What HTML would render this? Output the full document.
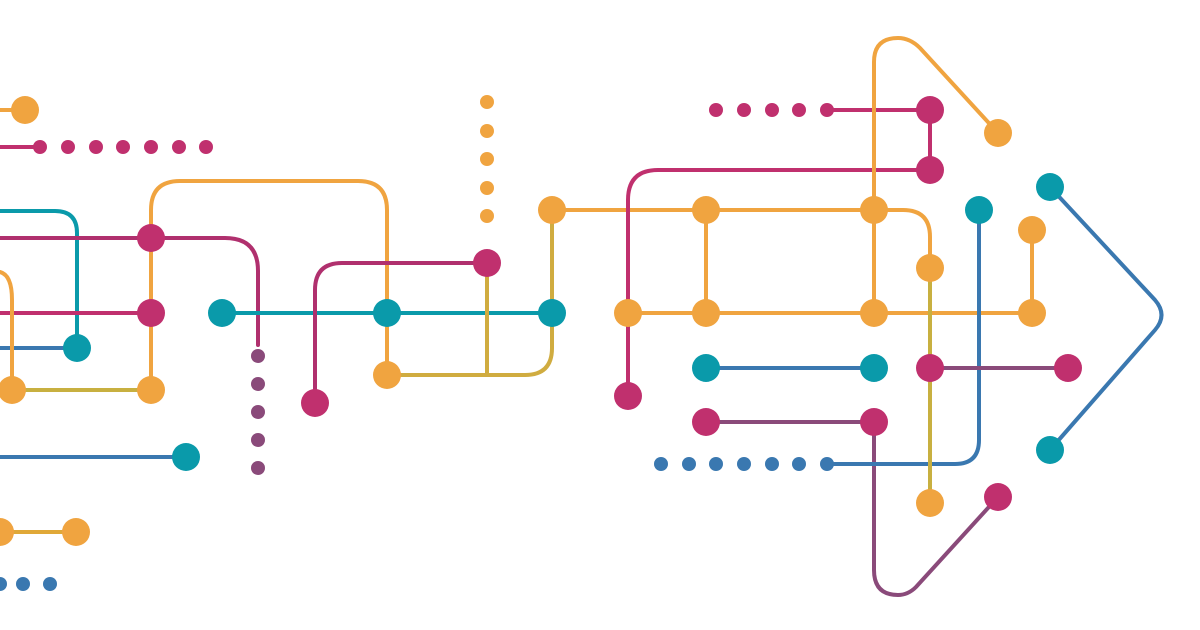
<!DOCTYPE html>
<html><head><meta charset="utf-8"><style>html,body{margin:0;padding:0;background:#fff}svg{display:block}</style></head>
<body>
<svg width="1200" height="630" viewBox="0 0 1200 630" xmlns="http://www.w3.org/2000/svg" fill="none" stroke-width="4" stroke-linecap="round">
<!-- left -->
<path d="M0 110H25" stroke="#F0A440"/>
<path d="M0 147H40" stroke="#C0306E"/>
<path d="M0 211H55Q77 211 77 233V348" stroke="#0A9AAA"/>
<path d="M0 348H77" stroke="#3A78B0"/>
<path d="M0 238H225Q258 238 258 271V345" stroke="#B0306E"/>
<path d="M151 390V210Q151 181 180 181H358Q387 181 387 210V375" stroke="#F0A440"/>
<path d="M0 313H151" stroke="#C0306E"/>
<path d="M0 272Q12 275 12 300V390" stroke="#F0A440"/>
<path d="M12 390H151" stroke="#C8B040"/>
<path d="M0 457H186" stroke="#3A78B0"/>
<path d="M0 532H76" stroke="#E0A838"/>
<!-- middle -->
<path d="M222 313H552" stroke="#0A9AAA"/>
<path d="M315 403V290Q315 263 342 263H487" stroke="#B0306E"/>
<path d="M487 263V375" stroke="#D0AC40"/>
<path d="M387 375H525Q552 375 552 348V210" stroke="#D0AC40"/>
<path d="M552 210H903Q930 210 930 237V268" stroke="#F0A440"/>
<path d="M706 210V313" stroke="#F0A440"/>
<path d="M628 313H1032" stroke="#F0A440"/>
<path d="M628 396V200Q628 170 658 170H930" stroke="#C0306E"/>
<path d="M827 110H930V170" stroke="#C0306E"/>
<path d="M874 313V62Q874 38 898 38Q910 38 920 48L998 133" stroke="#F0A440"/>
<path d="M706 368H874" stroke="#3A78B0"/>
<path d="M706 422H874V570Q874 595 898 595Q908 595 916 587L998 497" stroke="#8A4A7A"/>
<path d="M827 464H955Q979 464 979 440V210" stroke="#3A78B0"/>
<path d="M930 268V503" stroke="#C8B040"/>
<path d="M930 368H1068" stroke="#8A4A7A"/>
<path d="M1032 230V313" stroke="#F0A440"/>
<path d="M1050 187L1155 300Q1168 315 1155 330L1050 450" stroke="#3A78B0"/>
<g stroke="none">
<g fill="#F0A440">
<circle cx="25" cy="110" r="14"/><circle cx="12" cy="390" r="14"/><circle cx="151" cy="390" r="14"/><circle cx="387" cy="375" r="14"/>
<circle cx="0" cy="532" r="14"/><circle cx="76" cy="532" r="14"/>
<circle cx="487" cy="102" r="7"/><circle cx="487" cy="131" r="7"/><circle cx="487" cy="159" r="7"/><circle cx="487" cy="188" r="7"/><circle cx="487" cy="216" r="7"/>
<circle cx="552" cy="210" r="14"/><circle cx="706" cy="210" r="14"/><circle cx="874" cy="210" r="14"/><circle cx="930" cy="268" r="14"/>
<circle cx="628" cy="313" r="14"/><circle cx="706" cy="313" r="14"/><circle cx="874" cy="313" r="14"/><circle cx="1032" cy="313" r="14"/>
<circle cx="1032" cy="230" r="14"/><circle cx="998" cy="133" r="14"/><circle cx="930" cy="503" r="14"/>
</g>
<g fill="#C0306E">
<circle cx="40" cy="147" r="7"/><circle cx="68" cy="147" r="7"/><circle cx="96" cy="147" r="7"/><circle cx="123" cy="147" r="7"/><circle cx="151" cy="147" r="7"/><circle cx="179" cy="147" r="7"/><circle cx="206" cy="147" r="7"/>
<circle cx="151" cy="238" r="14"/><circle cx="151" cy="313" r="14"/><circle cx="315" cy="403" r="14"/><circle cx="487" cy="263" r="14"/>
<circle cx="716" cy="110" r="7"/><circle cx="744" cy="110" r="7"/><circle cx="772" cy="110" r="7"/><circle cx="799" cy="110" r="7"/><circle cx="827" cy="110" r="7"/>
<circle cx="930" cy="110" r="14"/><circle cx="930" cy="170" r="14"/><circle cx="628" cy="396" r="14"/>
<circle cx="706" cy="422" r="14"/><circle cx="874" cy="422" r="14"/><circle cx="930" cy="368" r="14"/><circle cx="1068" cy="368" r="14"/><circle cx="998" cy="497" r="14"/>
</g>
<g fill="#8A4A7A">
<circle cx="258" cy="356" r="7"/><circle cx="258" cy="384" r="7"/><circle cx="258" cy="412" r="7"/><circle cx="258" cy="440" r="7"/><circle cx="258" cy="468" r="7"/>
</g>
<g fill="#0A9AAA">
<circle cx="77" cy="348" r="14"/><circle cx="186" cy="457" r="14"/><circle cx="222" cy="313" r="14"/><circle cx="387" cy="313" r="14"/><circle cx="552" cy="313" r="14"/>
<circle cx="706" cy="368" r="14"/><circle cx="874" cy="368" r="14"/><circle cx="979" cy="210" r="14"/><circle cx="1050" cy="187" r="14"/><circle cx="1050" cy="450" r="14"/>
</g>
<g fill="#3A78B0">
<circle cx="0" cy="584" r="7"/><circle cx="23" cy="584" r="7"/><circle cx="50" cy="584" r="7"/>
<circle cx="661" cy="464" r="7"/><circle cx="689" cy="464" r="7"/><circle cx="716" cy="464" r="7"/><circle cx="744" cy="464" r="7"/><circle cx="772" cy="464" r="7"/><circle cx="799" cy="464" r="7"/><circle cx="827" cy="464" r="7"/>
</g>
</g>
</svg>
</body></html>
